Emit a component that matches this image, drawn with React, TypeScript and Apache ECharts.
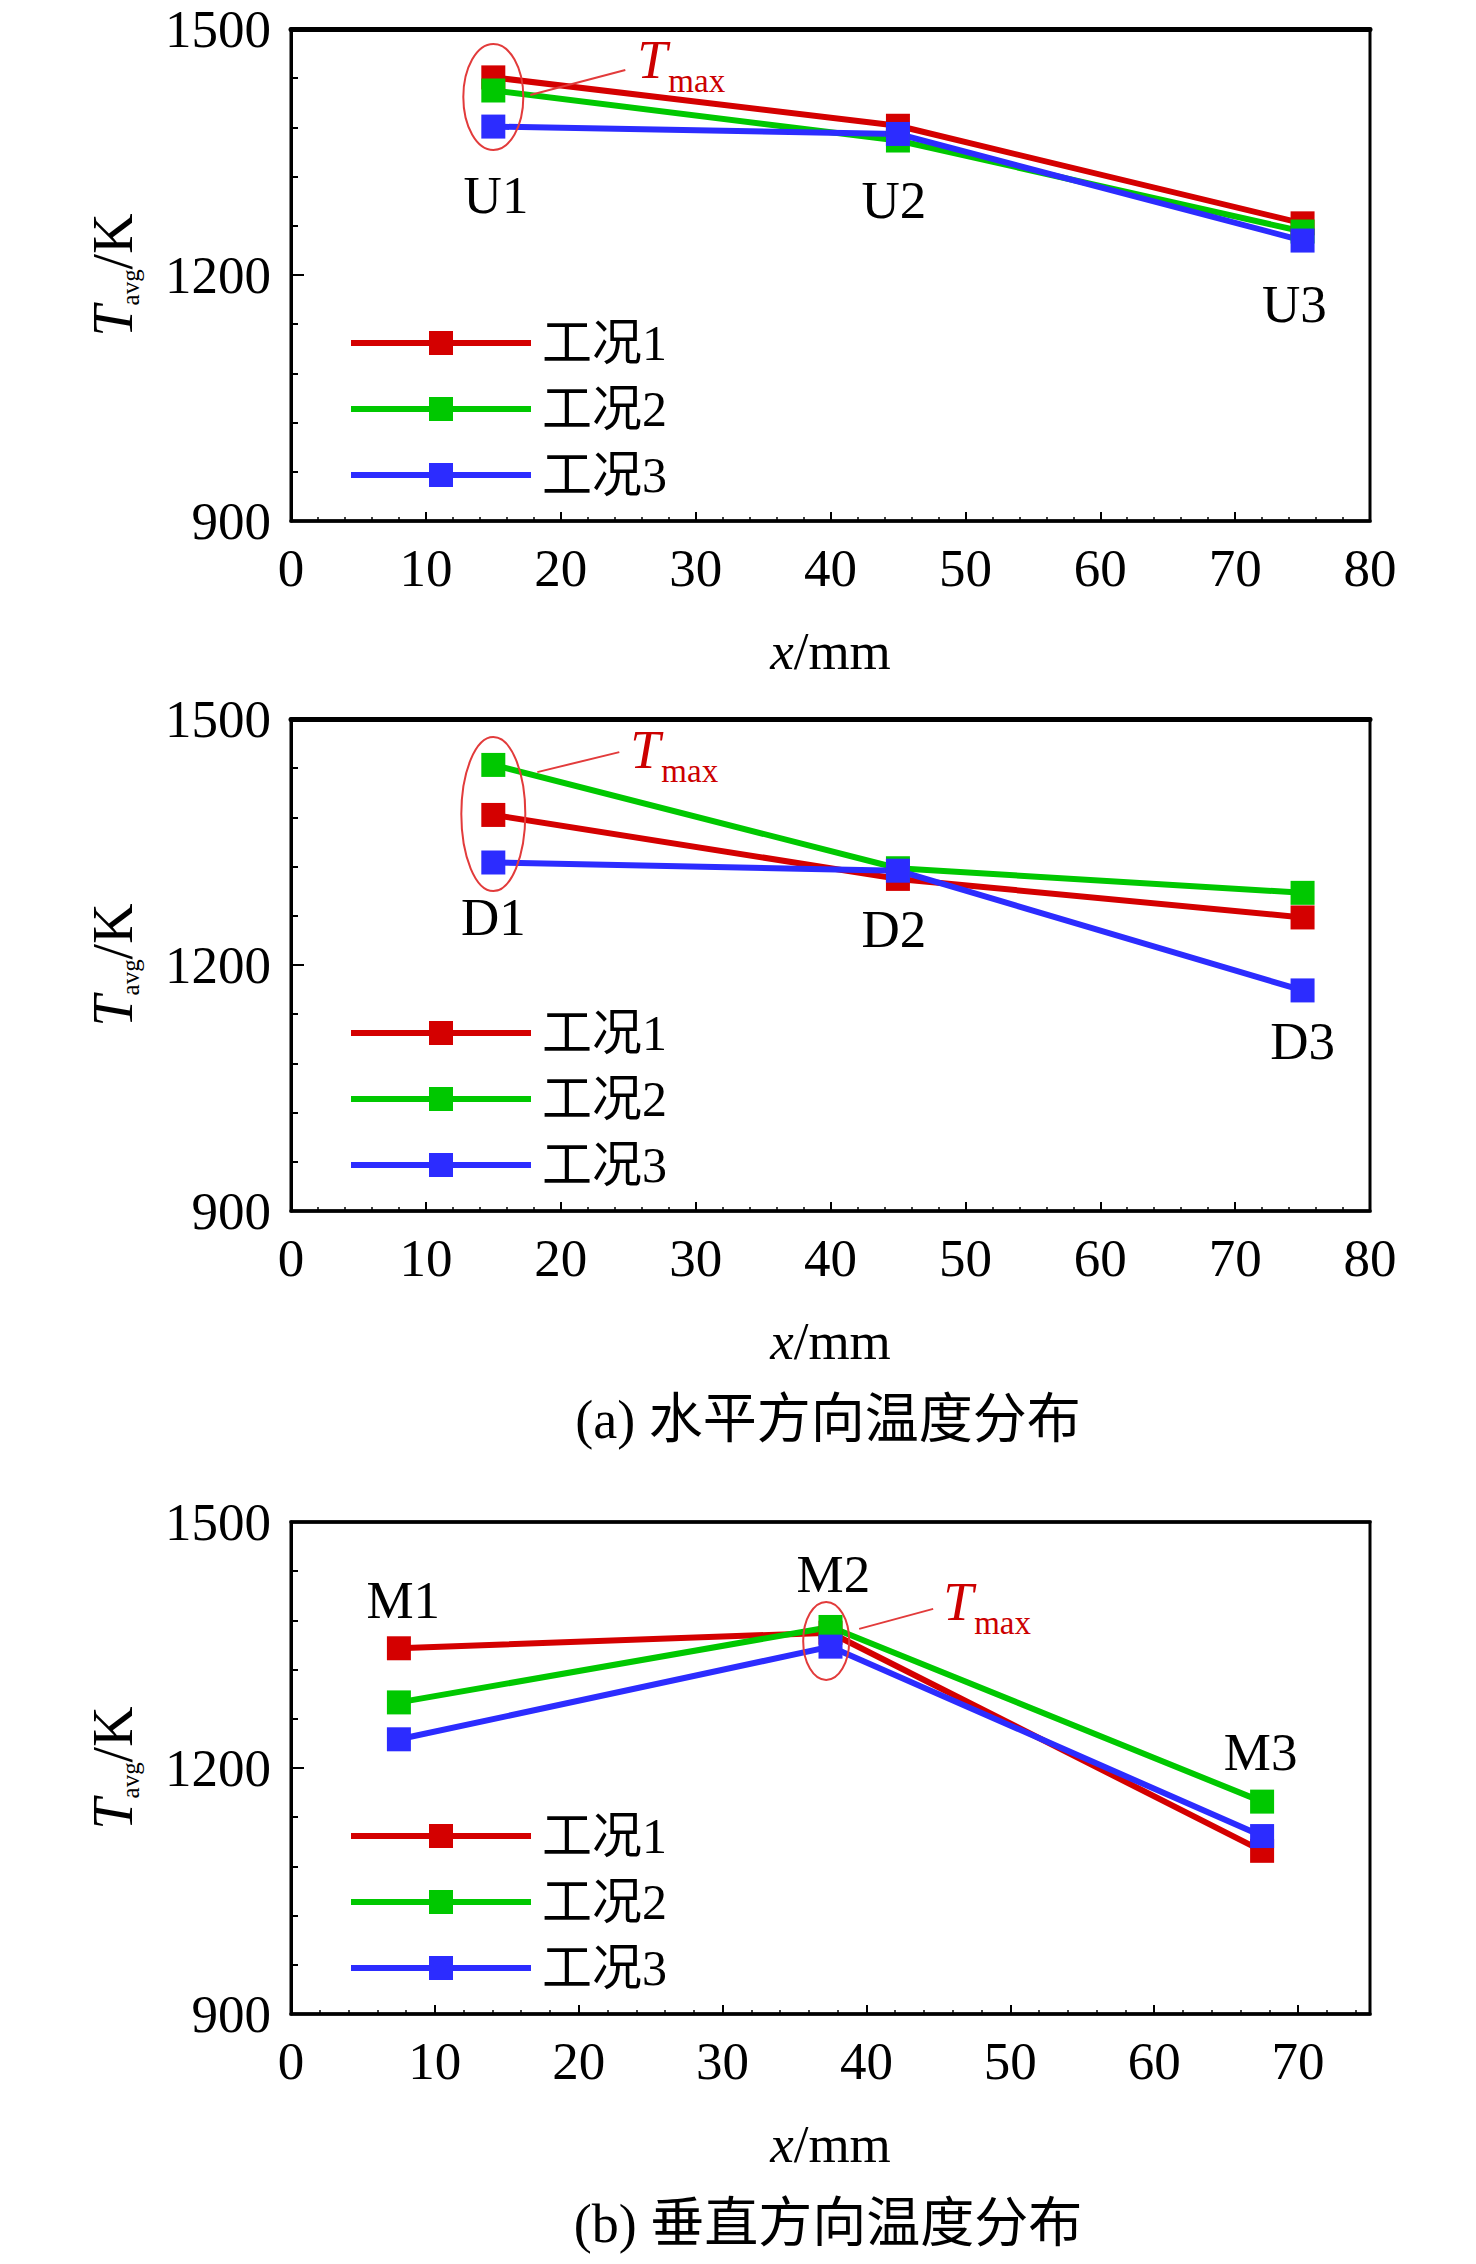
import React, { useEffect, useRef } from "react";
import * as echarts from "echarts";

// ---------- data ----------
const caseNames = ["工况1", "工况2", "工况3"];
const caseColors = ["#d40000", "#00c800", "#2c2cff"];

const xHorizontal = [15, 45, 75];
const xVertical = [7.5, 37.5, 67.5];

const uCase1 = [1441, 1382, 1263];
const uCase2 = [1425, 1364, 1253];
const uCase3 = [1381, 1372, 1242];

const dCase1 = [1383, 1305, 1258];
const dCase2 = [1444, 1318, 1288];
const dCase3 = [1325, 1315, 1169];

const mCase1 = [1346, 1365, 1099];
const mCase2 = [1280, 1372, 1159];
const mCase3 = [1235, 1348, 1117];

const uPointNames = ["U1", "U2", "U3"];
const dPointNames = ["D1", "D2", "D3"];
const mPointNames = ["M1", "M2", "M3"];

const yMin = 900;
const yMax = 1500;
const yLabelStep = 300;
const xStep = 10;
const xMaxHorizontal = 80;
const xMaxVertical = 75;

const captions = ["(a) 水平方向温度分布", "(b) 垂直方向温度分布"];

// ---------- layout (annotation positions, not data) ----------
const gridTops = [29, 719, 1522];
const gridLeft = 291;
const gridRight = 106;
const gridHeight = 492;
const topLineWidths = [5, 5, 3.5];

// point-name label anchors in data space
const labelAnchors = [
  [[15.2, 1298], [44.7, 1292], [74.4, 1165]],
  [[15, 1259], [44.7, 1244], [75, 1107]],
  [[7.8, 1405], [37.7, 1436], [67.4, 1219]],
];

// Tmax ellipse anchors (data space) and pixel offsets
const tmaxMarks = [
  { at: [15, 1417], rx: 30, ry: 53, tDx: 144, tDy: -37, from: [37, -2], to: [132, -27] },
  { at: [15, 1384], rx: 32, ry: 77, tDx: 137, tDy: -64, from: [44, -42], to: [126, -62] },
  { at: [37.2, 1355], rx: 23, ry: 39, tDx: 117, tDy: -39, from: [33, -12], to: [107, -32] },
];

const captionPos = [
  [828, 1420],
  [828, 2224],
];

const panels = [
  { xs: xHorizontal, values: [uCase1, uCase2, uCase3], names: uPointNames, xMax: xMaxHorizontal },
  { xs: xHorizontal, values: [dCase1, dCase2, dCase3], names: dPointNames, xMax: xMaxHorizontal },
  { xs: xVertical, values: [mCase1, mCase2, mCase3], names: mPointNames, xMax: xMaxVertical },
];

const SERIF = '"Liberation Serif", "Times New Roman", serif';
const MIXED = '"Liberation Serif", "Noto Sans CJK SC", serif';
const RED_NOTE = "#cc0000";
const ELLIPSE_RED = "#e23b3b";

function buildOption() {
  const grid: any[] = [];
  const xAxis: any[] = [];
  const yAxis: any[] = [];
  const series: any[] = [];
  const legend: any[] = [];

  panels.forEach((p, i) => {
    grid.push({
      left: gridLeft,
      right: gridRight,
      top: gridTops[i],
      height: gridHeight,
      show: true,
      borderColor: "#000",
      borderWidth: 3,
      backgroundColor: "transparent",
    });
    xAxis.push({
      gridIndex: i,
      type: "value",
      min: 0,
      max: p.xMax,
      interval: xStep,
      position: "bottom",
      axisLine: { show: true, onZero: false, lineStyle: { color: "#000", width: 3.5 } },
      axisTick: { show: true, inside: true, length: 9, lineStyle: { color: "#000", width: 2 } },
      minorTick: { show: true, splitNumber: 5, length: 4, lineStyle: { color: "#000", width: 1.5 } },
      splitLine: { show: false },
      axisLabel: {
        fontSize: 53,
        fontFamily: SERIF,
        color: "#000",
        margin: 20,
        formatter: (v: number) => (v % xStep === 0 ? String(v) : ""),
      },
      name: "{x|x}{n|/mm}",
      nameLocation: "middle",
      nameGap: 103,
      nameTextStyle: {
        rich: {
          x: { fontStyle: "italic", fontSize: 53, fontFamily: SERIF, color: "#000" },
          n: { fontSize: 53, fontFamily: SERIF, color: "#000" },
        },
      },
    });
    xAxis.push({
      gridIndex: i,
      type: "value",
      min: 0,
      max: p.xMax,
      position: "top",
      axisLine: { show: true, onZero: false, lineStyle: { color: "#000", width: topLineWidths[i] } },
      axisTick: { show: false },
      axisLabel: { show: false },
      splitLine: { show: false },
    });
    yAxis.push({
      gridIndex: i,
      type: "value",
      min: yMin,
      max: yMax,
      interval: yLabelStep,
      axisLine: { show: true, onZero: false, lineStyle: { color: "#000", width: 3 } },
      axisTick: { show: true, inside: true, length: 13, lineStyle: { color: "#000", width: 2 } },
      minorTick: { show: true, splitNumber: 5, length: 7, lineStyle: { color: "#000", width: 2 } },
      splitLine: { show: false },
      axisLabel: {
        fontSize: 53,
        fontFamily: SERIF,
        color: "#000",
        margin: 20,
        formatter: (v: number) => String(v),
      },
      name: "{t|T}{s|avg}{n|/K}",
      nameLocation: "middle",
      nameRotate: 90,
      nameGap: 148,
      nameTextStyle: {
        rich: {
          t: { fontStyle: "italic", fontSize: 56, fontFamily: SERIF, color: "#000", lineHeight: 60 },
          s: { fontSize: 25, fontFamily: SERIF, color: "#000", lineHeight: 18, verticalAlign: "bottom" },
          n: { fontSize: 56, fontFamily: SERIF, color: "#000", lineHeight: 60 },
        },
      },
    });

    p.values.forEach((vals, j) => {
      series.push({
        name: caseNames[j],
        type: "line",
        xAxisIndex: 2 * i,
        yAxisIndex: i,
        data: p.xs.map((x, k) => [x, vals[k]]),
        symbol: "rect",
        symbolSize: 24,
        showAllSymbol: true,
        lineStyle: { color: caseColors[j], width: 6 },
        itemStyle: { color: caseColors[j] },
        emphasis: { disabled: true },
        silent: true,
      });
    });

    legend.push({
      data: caseNames,
      orient: "vertical",
      left: 343,
      top: gridTops[i] + 284,
      itemWidth: 180,
      itemHeight: 30,
      itemGap: 16,
      selectedMode: false,
      lineStyle: { width: 6 },
      textStyle: {
        fontSize: 50,
        fontFamily: MIXED,
        color: "#000",
        padding: [0, 0, 0, 6],
      },
    });
  });

  return {
    animation: false,
    backgroundColor: "#fff",
    grid,
    xAxis,
    yAxis,
    legend,
    series,
  };
}

export default function App() {
  const ref = useRef<HTMLDivElement>(null);

  useEffect(() => {
    document.body.style.margin = "0";
    const el = ref.current;
    if (!el) return;
    const chart = echarts.init(el, null, { renderer: "svg" });
    chart.setOption(buildOption() as any);

    const graphics: any[] = [];
    panels.forEach((p, i) => {
      const finder = { xAxisIndex: 2 * i, yAxisIndex: i };
      p.names.forEach((nm, k) => {
        const pt = chart.convertToPixel(finder as any, labelAnchors[i][k]) as number[];
        graphics.push({
          type: "text",
          x: pt[0],
          y: pt[1],
          z: 100,
          silent: true,
          style: {
            text: nm,
            fontSize: 53,
            fontFamily: SERIF,
            fill: "#000",
            align: "center",
            verticalAlign: "middle",
            textAlign: "center",
            textVerticalAlign: "middle",
          },
        });
      });

      const m = tmaxMarks[i];
      const c = chart.convertToPixel(finder as any, m.at) as number[];
      graphics.push({
        type: "ellipse",
        z: 100,
        silent: true,
        shape: { cx: c[0], cy: c[1], rx: m.rx, ry: m.ry },
        style: { fill: "none", stroke: ELLIPSE_RED, lineWidth: 2 },
      });
      graphics.push({
        type: "line",
        z: 100,
        silent: true,
        shape: { x1: c[0] + m.from[0], y1: c[1] + m.from[1], x2: c[0] + m.to[0], y2: c[1] + m.to[1] },
        style: { stroke: ELLIPSE_RED, lineWidth: 2 },
      });
      graphics.push({
        type: "text",
        x: c[0] + m.tDx,
        y: c[1] + m.tDy,
        z: 100,
        silent: true,
        style: {
          text: "T",
          fontSize: 54,
          fontStyle: "italic",
          fontFamily: SERIF,
          fill: RED_NOTE,
          align: "left",
          verticalAlign: "middle",
          textAlign: "left",
          textVerticalAlign: "middle",
        },
      });
      graphics.push({
        type: "text",
        x: c[0] + m.tDx + 31,
        y: c[1] + m.tDy + 21,
        z: 100,
        silent: true,
        style: {
          text: "max",
          fontSize: 33,
          fontFamily: SERIF,
          fill: RED_NOTE,
          align: "left",
          verticalAlign: "middle",
          textAlign: "left",
          textVerticalAlign: "middle",
        },
      });
    });

    captions.forEach((cap, i) => {
      graphics.push({
        type: "text",
        x: captionPos[i][0],
        y: captionPos[i][1],
        z: 100,
        silent: true,
        style: {
          text: cap,
          fontSize: 54,
          fontFamily: MIXED,
          fill: "#000",
          align: "center",
          verticalAlign: "middle",
          textAlign: "center",
          textVerticalAlign: "middle",
        },
      });
    });

    chart.setOption({ graphic: graphics } as any);
    return () => chart.dispose();
  }, []);

  return <div ref={ref} style={{ width: 1476, height: 2264 }} />;
}
